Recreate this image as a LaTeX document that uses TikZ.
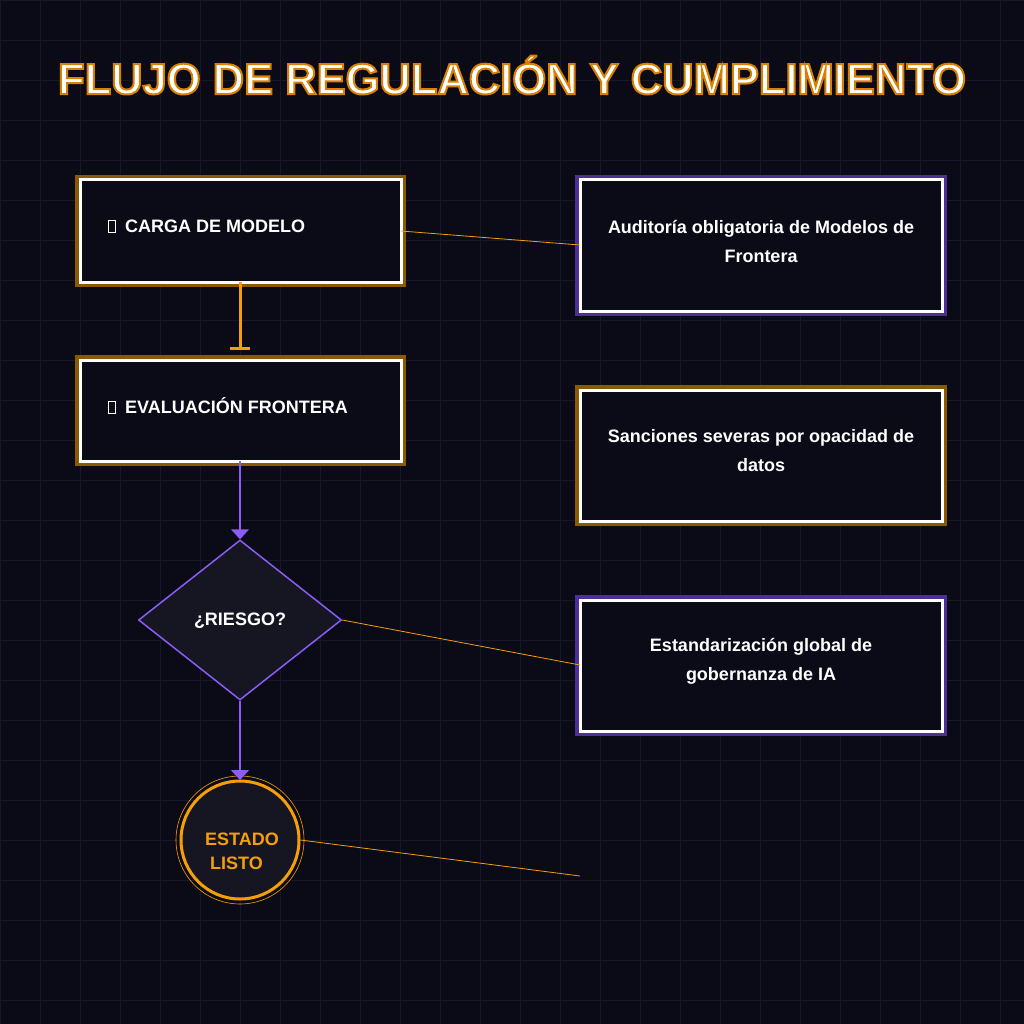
\documentclass[tikz,border=0pt]{standalone}
\usepackage{fontspec}
\setmainfont{Liberation Sans}
\usetikzlibrary{shapes.geometric,arrows.meta}
\definecolor{bg}{HTML}{0B0B18}
\definecolor{gridc}{HTML}{171729}
\definecolor{org}{HTML}{F59E0B}
\definecolor{orgd}{HTML}{8A5A00}
\definecolor{pur}{HTML}{8B5CF6}
\definecolor{purd}{HTML}{4C2F99}
\definecolor{fillc}{HTML}{161622}
\newcommand{\tofu}{\tikz[baseline=0pt]\draw[white,line width=0.7pt](0,0) rectangle (7pt,12pt);}
\begin{document}
\begin{tikzpicture}[x=1pt,y=-1pt,
  txt/.style={text=white,font=\bfseries\fontsize{18}{29}\selectfont,align=center},
  obox/.style={draw=white,line width=3pt,fill=bg,preaction={draw=orgd,line width=10pt}},
  pbox/.style={draw=white,line width=3pt,fill=bg,preaction={draw=purd,line width=10pt}},
  conn/.style={org,line width=0.8pt},
  parr/.style={pur,line width=1.5pt,-{Triangle[length=10pt,width=18pt]}}]
\useasboundingbox (0,0) rectangle (1024,1024);
\fill[bg] (0,0) rectangle (1024,1024);
\foreach \i in {0,40,...,1000} {
  \draw[gridc,line width=0.8pt] (\i,0) -- (\i,1024);
  \draw[gridc,line width=0.8pt] (0,\i) -- (1024,\i);}
% title
\node[text=white,font=\bfseries\fontsize{43.5}{50}\selectfont] (title) at (512,75)
 {\special{pdf:literal direct 2 Tr 0.85 0.5 0.0 RG 2 w}FLUJO DE REGULACIÓN Y CUMPLIMIENTO\special{pdf:literal direct 0 Tr}};
% left boxes
\draw[obox] (80,180) rectangle (401,282);
\node[txt,anchor=west] (b1) at (104,226) {\tofu\ \ CARGA DE MODELO};
\coordinate (b1r) at (401,231); \coordinate (b1b) at (240,282);
\draw[obox] (80,360) rectangle (401,461);
\node[txt,anchor=west] (b2) at (104,406) {\tofu\ \ EVALUACIÓN FRONTERA};
\coordinate (b2t) at (240,350); \coordinate (b2b) at (240,461);
% right boxes
\draw[pbox] (580,180) rectangle (942,311);
\node[txt] (r1) at (761,241) {Auditoría obligatoria de Modelos de\\Frontera};
\coordinate (r1l) at (580,245);
\draw[obox] (580,390) rectangle (942,521);
\node[txt] (r2) at (761,451) {Sanciones severas por opacidad de\\datos};
\draw[pbox] (580,600) rectangle (942,731);
\node[txt] (r3) at (761,661) {Estandarización global de\\gobernanza de IA};
\coordinate (r3l) at (580,665);
% diamond
\node[diamond,draw=pur,line width=1.5pt,fill=fillc,minimum width=203pt,minimum height=160pt,inner sep=0pt,aspect=1.27] (d) at (240,620) {};
\node[txt] at (240,621) {¿RIESGO?};
% circle
\draw[org,line width=0.6pt] (240,840) circle (64);
\node[circle,draw=org,line width=3pt,fill=fillc,minimum size=118pt,inner sep=0pt] (c) at (240,840) {};
\node[text=org,font=\bfseries\fontsize{18}{24}\selectfont,align=left] at (242,851) {ESTADO\\\ LISTO};
\coordinate (free) at (580,876);
% connectors
\draw[org,line width=3pt,-{Bar[width=20pt,line width=3pt]}] (b1b) -- (b2t);
\draw[parr] (b2b) -- (d.north);
\draw[parr] (d.south) -- (240,780);
\draw[conn] (b1r) -- (r1l);
\draw[conn] (d.east) -- (r3l);
\draw[conn] (c.east) -- (free);
\end{tikzpicture}
\end{document}
